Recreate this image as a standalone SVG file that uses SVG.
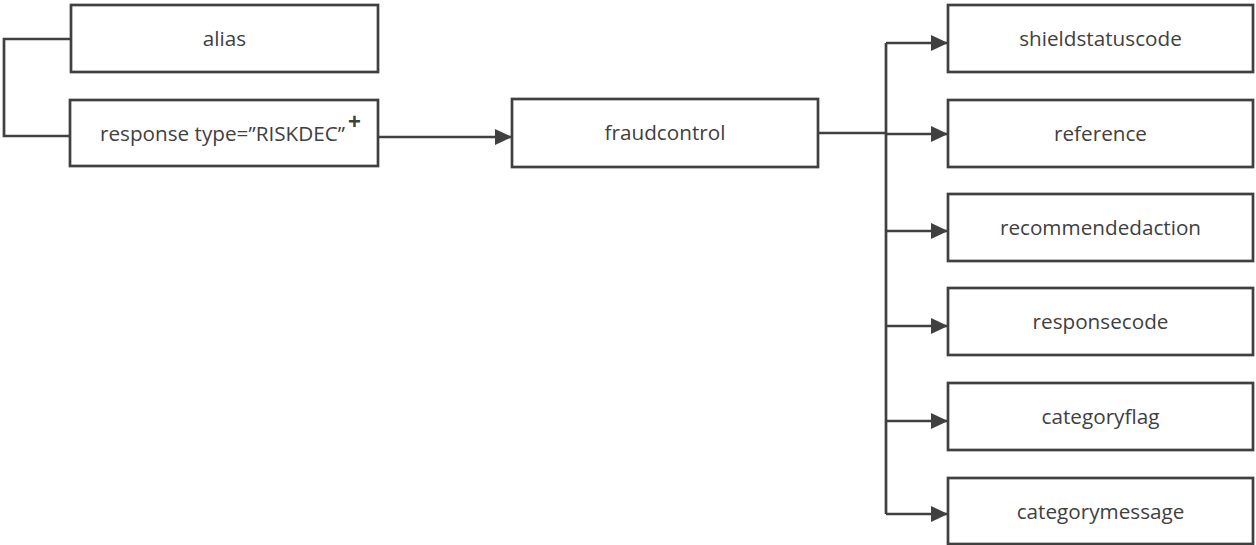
<svg xmlns="http://www.w3.org/2000/svg" width="1256" height="545" viewBox="0 0 1256 545">
  <defs>
    <marker id="arrow" markerUnits="userSpaceOnUse" markerWidth="18" markerHeight="17" refX="17" refY="8" orient="auto">
      <path d="M0,0 L17,8 L0,16 Z" fill="#404040"/>
    </marker>
    <style>
      .box { fill: #ffffff; stroke: #404040; stroke-width: 2.7; }
      .label { font-family: "Open Sans", "Liberation Sans", sans-serif; font-size: 20.7px; fill: #404040; text-anchor: middle; }
      .wire { fill: none; stroke: #404040; stroke-width: 2.7; }
      .plus { font-family: "Liberation Sans", sans-serif; font-size: 22px; font-weight: bold; fill: #404040; }
    </style>
  </defs>
  <rect width="1256" height="545" fill="#ffffff"/>

  <g id="connectors">
    <!-- bracket joining alias and response -->
    <path class="wire" d="M71,39 H4 V136 H70"/>
    <!-- response to fraudcontrol -->
    <path class="wire" d="M378,137 H512" marker-end="url(#arrow)"/>
    <!-- fraudcontrol to the bus -->
    <path class="wire" d="M818,133 H886"/>
    <!-- bus -->
    <path class="wire" d="M886,43 V514"/>
    <!-- bus to children -->
    <path class="wire" d="M886,43 H948" marker-end="url(#arrow)"/>
    <path class="wire" d="M886,134 H948" marker-end="url(#arrow)"/>
    <path class="wire" d="M886,231 H948" marker-end="url(#arrow)"/>
    <path class="wire" d="M886,326 H948" marker-end="url(#arrow)"/>
    <path class="wire" d="M886,421 H948" marker-end="url(#arrow)"/>
    <path class="wire" d="M886,514 H948" marker-end="url(#arrow)"/>
  </g>

  <g id="alias">
    <rect class="box" x="71" y="5" width="307" height="67"/>
    <text class="label" x="224.5" y="46">alias</text>
  </g>

  <g id="response">
    <rect class="box" x="70" y="100" width="308" height="66"/>
    <text class="label" x="222.5" y="140.5">response type=”RISKDEC”</text>
    <text class="plus" x="348" y="129">+</text>
  </g>

  <g id="fraudcontrol">
    <rect class="box" x="512" y="99" width="306" height="68"/>
    <text class="label" x="665" y="140">fraudcontrol</text>
  </g>

  <g id="shieldstatuscode">
    <rect class="box" x="948" y="5" width="305" height="67"/>
    <text class="label" x="1100.5" y="46">shieldstatuscode</text>
  </g>

  <g id="reference">
    <rect class="box" x="948" y="100" width="305" height="67"/>
    <text class="label" x="1100.5" y="141">reference</text>
  </g>

  <g id="recommendedaction">
    <rect class="box" x="948" y="194" width="305" height="67"/>
    <text class="label" x="1100.5" y="235">recommendedaction</text>
  </g>

  <g id="responsecode">
    <rect class="box" x="948" y="288" width="305" height="67"/>
    <text class="label" x="1100.5" y="329">responsecode</text>
  </g>

  <g id="categoryflag">
    <rect class="box" x="948" y="383" width="305" height="67"/>
    <text class="label" x="1100.5" y="424">categoryflag</text>
  </g>

  <g id="categorymessage">
    <rect class="box" x="948" y="478" width="305" height="66"/>
    <text class="label" x="1100.5" y="518.5">categorymessage</text>
  </g>
</svg>
